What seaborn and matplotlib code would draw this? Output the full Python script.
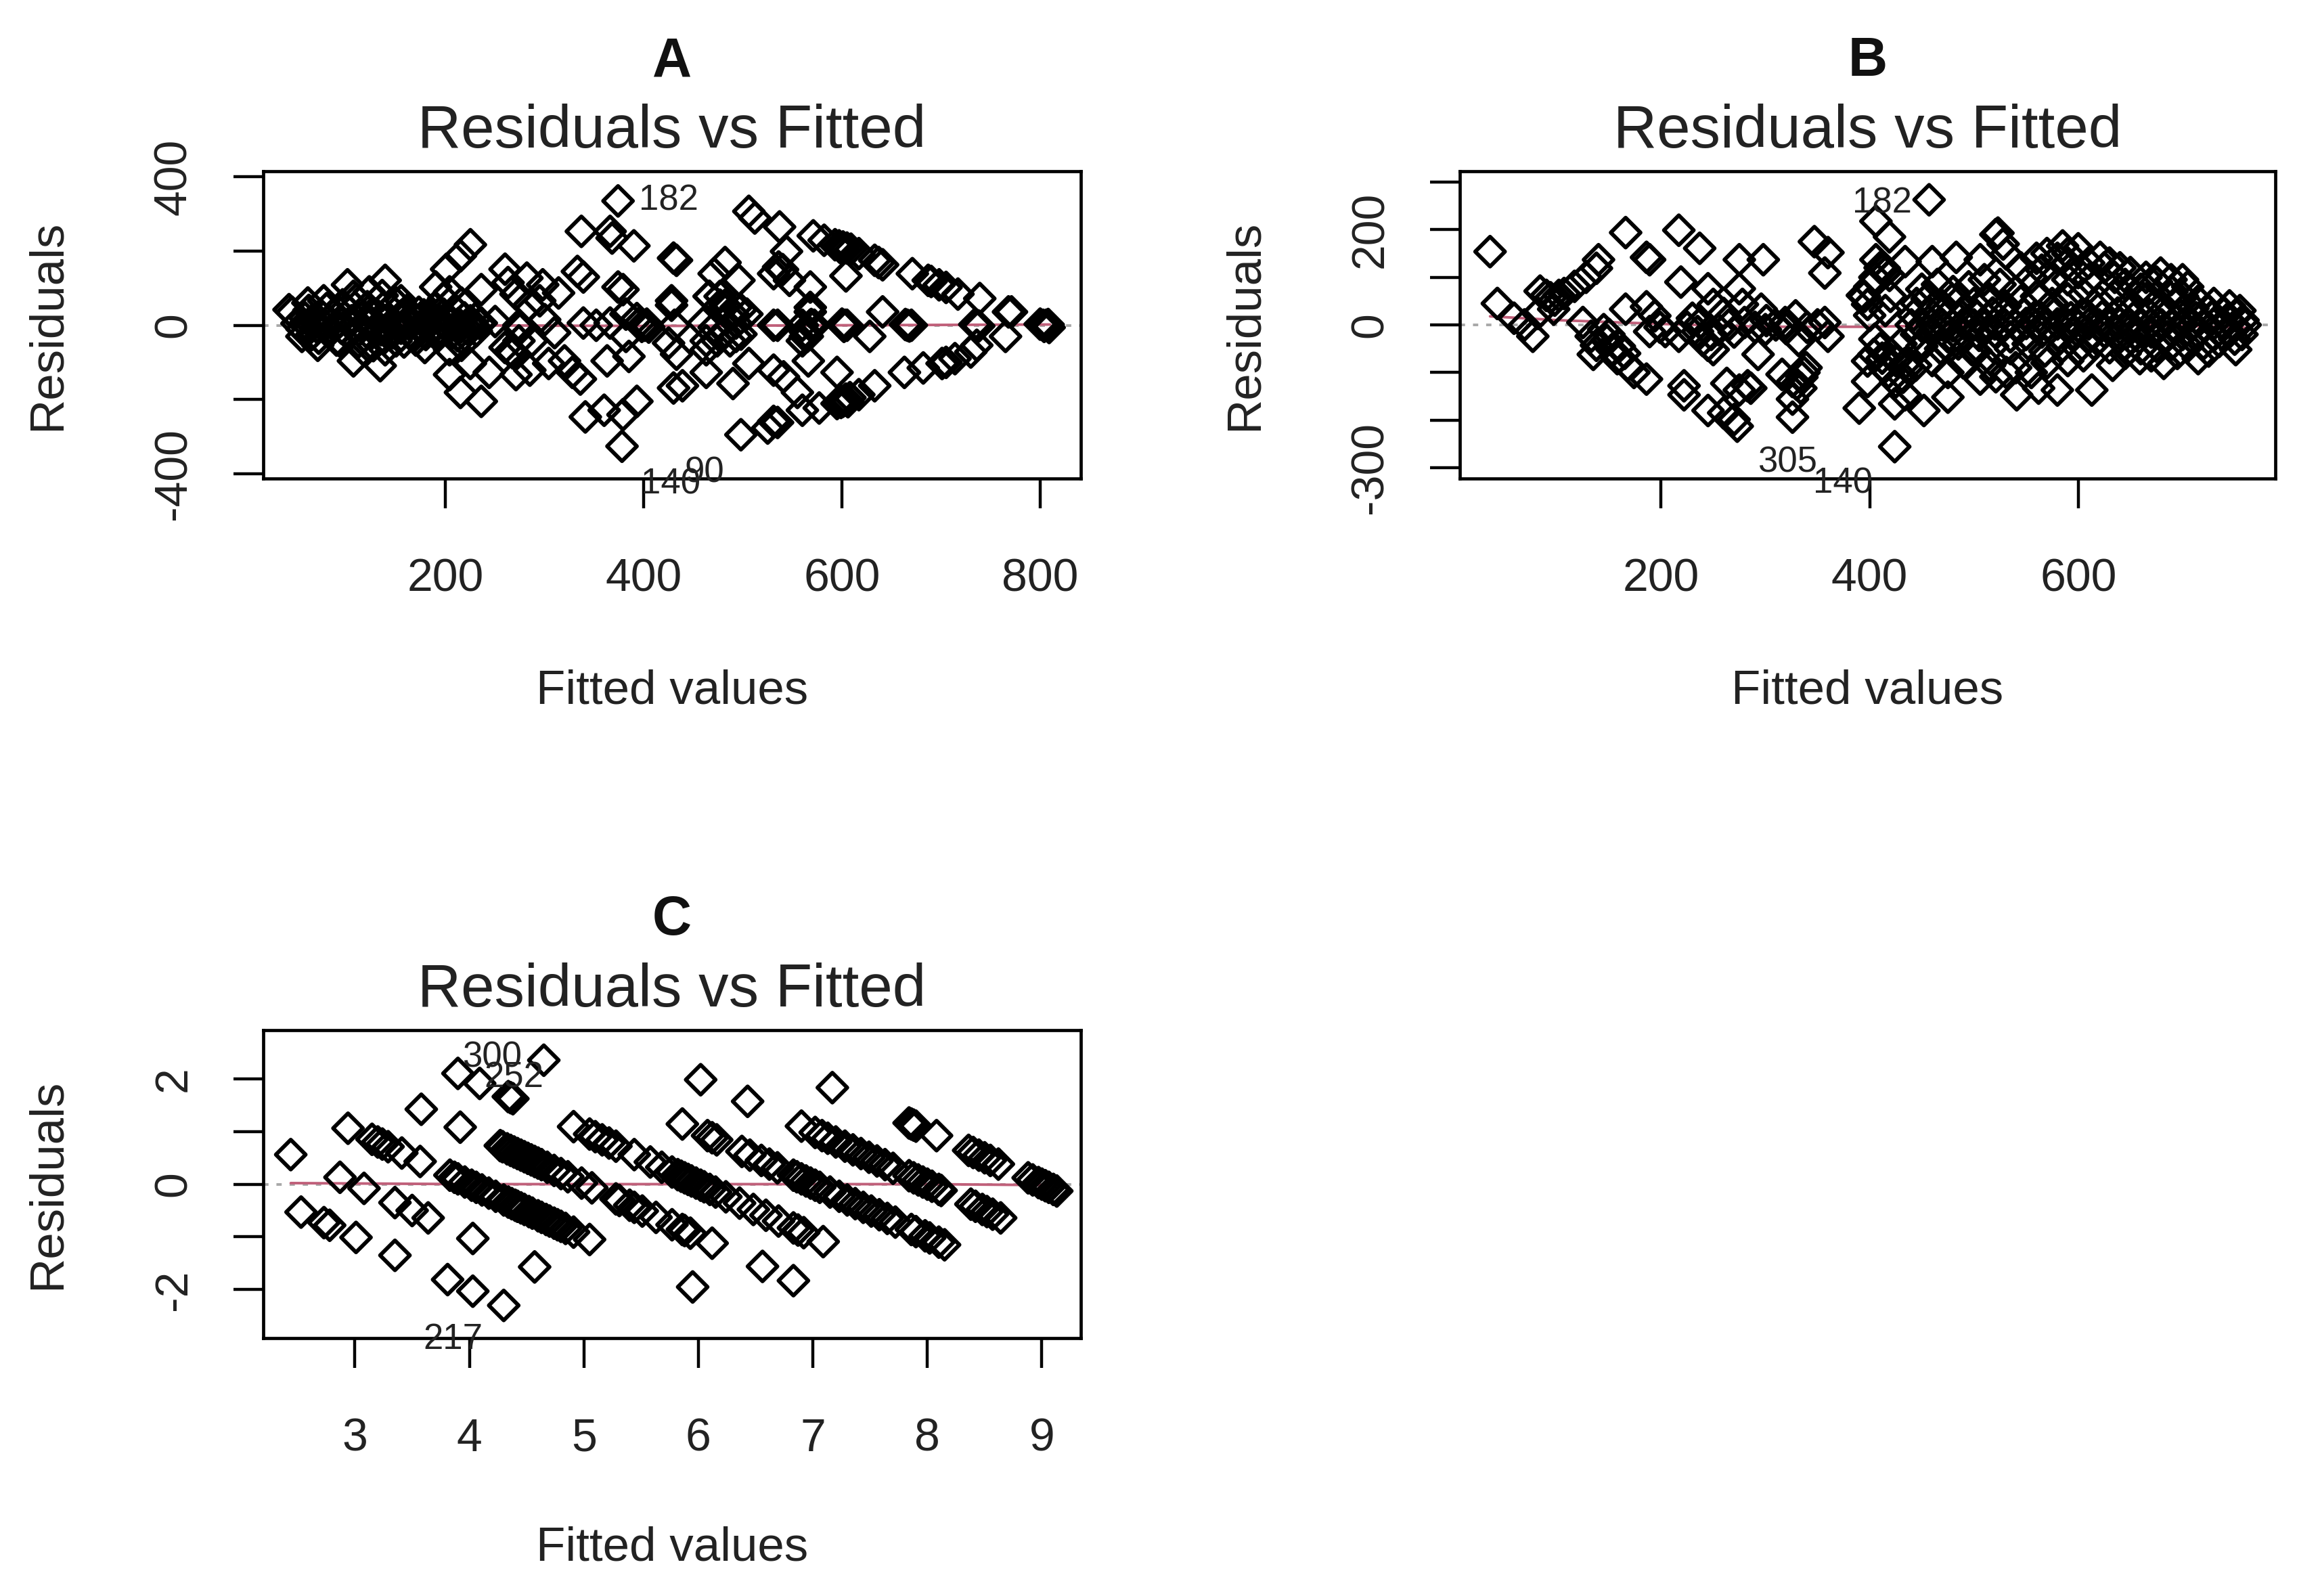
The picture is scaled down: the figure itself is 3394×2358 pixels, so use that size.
import matplotlib
matplotlib.use("Agg")
import matplotlib.pyplot as plt
import seaborn as sns
import pandas as pd

# ---------------- data ----------------
# Panel A: (fitted, residual)
a_left = [(45,35),(50,5),(55,-10),(58,20),(62,40),(65,-25),(68,10),(72,-35),(75,25),(78,0),(80,45),
          (84,-15),(88,30),(90,-40),(93,10),(96,55),(100,-20),(103,35),(106,-5),(110,70),(112,-45),
          (115,20),(118,-30),(121,50),(124,5),(127,-55),(130,30),(133,-10),(136,80),(138,-35),(141,15),
          (144,45),(147,-20),(150,60),(152,-5),(155,25),(158,-45),(161,40),(164,0),(167,-25),(170,15),
          (173,35),(176,-10),(180,5),(183,20),(186,-15),(189,45),(192,-30),(195,10),(198,30),(201,-5),
          (204,15),(207,-20),(210,40),(213,5),(216,-35),(219,20),(222,-10),(225,10),(228,0),(231,-15),
          (234,5),(42,42),(61,60),(77,66),(101,109),(139,121),(107,78),(123,90),(155,66),(190,103),
          (204,90),(198,72),(216,60),(201,151),(215,187),(225,217),(55,-30),(71,-54),(93,-42),(107,-96),
          (134,-109),(117,-66),(139,-66),(150,-42),(168,-30),(179,-60),(216,-54),(204,-66),(225,-103),
          (244,-127),(204,-133),(215,-181),(236,-205)]
a_core = [(60,0),(70,-5),(85,5),(95,-8),(105,12),(115,-3),(125,8),(135,-12),(145,3),(155,-8),
          (165,10),(175,-3),(185,8),(195,-10),(205,3),(215,-5),(225,12),(200,20),(190,-20),
          (180,-25),(170,-40),(160,25),(66,15),(82,-20),(98,22),(120,-18),(142,-25),(178,28),
          (212,-28),(230,18)]
a_mid = [(236,96),(260,151),(282,127),(298,109),(314,87),(263,115),(271,84),(295,66),(284,54),
         (260,-60),(274,-42),(287,-42),(271,-133),(285,-121),(304,-103),(320,-96),(328,-127),(336,-145),
         (333,145),(339,130),(374,103),(379,96),(428,66),(339,6),(352,0),(366,6),(382,30),(393,18),
         (401,0),(382,-30),(363,-96),(385,-84),(341,-247),(360,-229),(379,-241),(393,-205),(378,-326),
         (430,-169),(425,-48),(337,253),(366,253),(368,235),(390,214),(430,181),(374,335),
         (250,10),(275,-10),(300,15),(310,-20),(236,6),(274,0),(265,-70),(268,-75),
         (395,5),(398,-3),(403,3),(405,-5)]
a_right = [(506,307),(512,289),(537,265),(571,241),(582,229),(593,217),(597,214),(601,211),(605,208),
           (609,205),(617,193),(633,175),(637,169),(641,163),(604,133),(544,199),(536,157),(531,139),
           (540,150),(547,121),(568,103),(433,175),(482,169),(471,139),(496,121),(466,78),(477,54),
           (493,48),(504,30),(428,54),(431,0),(531,0),(535,0),(568,36),(568,0),(572,0),(601,0),(605,0),
           (641,36),(666,0),(670,0),(736,0),(771,36),(803,0),(806,0),(671,139),(687,121),(690,118),
           (698,109),(705,102),(717,84),(739,72),(768,36),(563,-30),(628,-30),(765,-30),(809,-6),
           (433,-78),(463,-66),(474,-42),(493,-30),(439,-163),(463,-127),(490,-157),(506,-103),
           (531,-121),(541,-139),(555,-181),(566,-96),(560,-229),(577,-223),(595,-211),(598,-205),
           (601,-205),(604,-199),(608,-195),(617,-187),(633,-163),(595,-127),(663,-127),(682,-115),
           (701,-103),(705,-100),(714,-90),(730,-72),(736,-54),(498,-295),(525,-277),(531,-259),
           (535,-262),(466,78),(477,78),(482,54),(490,30),(498,42),(460,6),(471,-6),(482,-18),(493,6),
           (463,-42),(477,-30),(487,-42),(498,-24),(560,0),(563,-18),(565,-30),(560,-42),(568,48),
           (569,2),(571,-2),(600,3),(602,-3),(603,0),(664,2),(668,-2),(734,2),(738,-2),(800,3),
           (804,-3),(808,2),(598,210),(600,206),(603,-202),(606,-206),(599,-208)]
a_labels = [("182", 425, 335), ("140", 427, -428), ("90", 461, -398)]
a_smooth_x = [45, 200, 400, 600, 810]
a_smooth_y = [3, 0, -2, 0, 2]

# Panel B: (fitted, residual)
b_left = [(36,154),(43,45),(59,14),(69,0),(77,-24),(84,71),(94,57),(102,62),(107,66),(117,81),
          (128,100),(138,119),(140,137),(82,24),(97,33),(90,62),(98,52),(125,5),(133,-24),(138,-43),
          (135,-62),(148,-33),(153,-52),(158,-71),(168,-85),(174,-100),(186,-114),(145,-10),(150,-20),
          (160,-45),(165,-60),(166,194),(166,33),(186,38),(194,19),(199,-5),(189,-14),(186,142),
          (189,137),(217,199),(237,161),(219,90),(245,76),(250,43),(260,24),(275,76),(278,43),(296,33),
          (301,9),(319,5),(329,19),(357,5),(360,-24),(230,14),(235,-14),(240,-33),(250,-52),(245,-43),
          (217,-24),(204,-14),(225,-5),(238,5),(248,-20),(255,-10),(265,0),(270,-15),(280,5),(290,-5),
          (300,-10),(310,0),(320,-8),(340,-5),(350,0),(275,137),(298,137),(347,175),(360,152),(357,109),
          (293,-62),(332,-33),(316,-104),(326,-119),(337,-100),(334,-133),(326,-156),(326,-194),
          (339,-90),(330,-125),(335,-110),(222,-128),(222,-147),(263,-123),(275,-137),(283,-128),
          (286,-133),(245,-180),(260,-185),(270,-199),(273,-213),(390,-175),(393,62),(398,43),
          (398,-76),(398,-119)]
b_mid = [(457,263),(406,218),(419,185),(521,190),(523,193),(528,170),(531,149),(406,137),(414,119),
         (419,104),(434,133),(460,133),(483,142),(506,137),(585,166),(621,142),(679,109),(689,95),
         (404,-62),(414,-90),(434,-81),(444,-85),(473,-43),(475,-100),(498,-52),(506,-114),(521,-109),
         (531,-100),(541,-147),(562,-133),(580,-137),(613,-137),(633,-85),(659,-71),(682,-81),
         (715,-71),(751,-52),(434,-147),(452,-180),(475,-152),(424,-166),(424,-256),
         (395,60),(400,80),(405,100),(410,120),(415,110),(420,-60),(425,-75),(430,-40),(410,-50),
         (405,-30),(415,30),(420,60),(400,20),(412,-70),(418,-100),(425,-120),(432,-110),(436,-90)]
b_band = [(450,75),(465,85),(480,70),(495,80),(510,95),(525,85),(540,70),(555,100),(565,115),(575,95),
          (590,130),(600,110),(610,95),(625,120),(635,100),(645,85),(660,75),(675,90),(690,70),(700,60),
          (715,50),(730,45),(745,40),(755,30),(445,45),(455,55),(470,40),(485,50),(500,45),(515,55),
          (530,40),(545,50),(560,60),(575,45),(590,55),(605,65),(620,50),(635,60),(650,45),(665,55),
          (680,40),(695,50),(710,35),(725,30),(740,25),(752,20),(442,20),(458,25),(472,15),(488,20),
          (503,18),(518,25),(533,15),(548,22),(563,18),(578,25),(593,15),(608,22),(623,18),(638,25),
          (653,15),(668,22),(683,18),(698,20),(713,15),(728,18),(743,12),(758,10),(440,0),(450,-3),
          (460,2),(470,0),(480,-2),(490,3),(500,0),(510,-3),(520,2),(530,0),(540,-2),(550,3),(560,0),
          (570,-2),(580,2),(590,0),(600,-3),(610,2),(620,0),(630,-2),(640,3),(650,0),(660,-2),(670,2),
          (680,0),(690,-3),(700,2),(710,0),(720,-2),(730,2),(740,0),(750,-2),(760,0),(445,-20),
          (460,-15),(475,-25),(490,-18),(505,-22),(520,-15),(535,-25),(550,-20),(565,-15),(580,-22),
          (595,-18),(610,-25),(625,-15),(640,-20),(655,-22),(670,-15),(685,-25),(700,-20),(715,-18),
          (730,-22),(745,-15),(757,-20),(450,-45),(468,-50),(485,-40),(502,-55),(518,-45),(535,-50),
          (552,-40),(568,-55),(585,-45),(600,-50),(615,-40),(630,-48),(645,-42),(660,-50),(675,-45),
          (690,-40),(705,-45),(720,-40),(735,-35),(750,-30),(460,-75),(490,-80),(515,-85),(540,-90),
          (555,-100),(570,-80),(590,-75),(605,-65),(645,-60),(670,-65),(695,-60),(725,-55),(545,120),
          (560,140),(570,150),(580,140),(590,150),(600,160),(610,130),(630,130),(640,120),(650,110),
          (665,100),(700,95),(705,80),(590,95)]
b_labels = [("182", 412, 256), ("305", 321, -289), ("140", 374, -333)]
b_smooth_x = [36, 100, 200, 300, 400, 500, 600, 700, 760]
b_smooth_y = [18, 10, 2, -4, -4, 0, 2, -2, -6]

# Panel C: fitted values grouped by observed count
c_fit_2 = [2.53, 2.73, 2.78, 3.01, 3.35, 3.81, 4.03, 4.30]
c_fit_3 = [2.44, 2.87, 3.08, 3.35, 3.50, 3.64, 4.03, 4.57]
c_fit_4 = [2.94, 3.15, 3.20, 3.24, 3.29, 3.41, 3.57, 3.83, 3.87, 3.90, 3.96, 4.02, 4.06, 4.11, 4.17,
           4.23, 4.30, 4.34, 4.37, 4.40, 4.42, 4.45, 4.48, 4.52, 4.55, 4.60, 4.63, 4.67, 4.70, 4.74,
           4.77, 4.80, 4.84, 4.91, 5.05, 5.95]
c_fit_5 = [3.58, 3.92, 4.27, 4.29, 4.33, 4.36, 4.39, 4.42, 4.45, 4.48, 4.51, 4.54, 4.57, 4.60, 4.63,
           4.68, 4.74, 4.80, 4.86, 4.98, 5.07, 5.28, 5.31, 5.40, 5.44, 5.51, 5.63, 5.77, 5.86, 5.88,
           5.93, 6.12, 6.56, 6.83]
c_fit_6 = [3.90, 4.09, 4.34, 4.36, 4.38, 4.91, 5.05, 5.10, 5.16, 5.22, 5.28, 5.44, 5.58, 5.68, 5.77,
           5.82, 5.85, 5.88, 5.91, 5.94, 5.98, 6.02, 6.05, 6.10, 6.15, 6.24, 6.36, 6.48, 6.59, 6.70,
           6.83, 6.87, 6.92, 7.09]
c_fit_7 = [4.65, 5.86, 6.08, 6.12, 6.16, 6.38, 6.45, 6.55, 6.62, 6.69, 6.83, 6.86, 6.90, 6.94, 6.98,
           7.02, 7.06, 7.15, 7.23, 7.30, 7.37, 7.44, 7.51, 7.58, 7.65, 7.72, 7.86, 7.90, 7.98, 8.02,
           8.10, 8.15]
c_fit_8 = [6.02, 6.43, 6.90, 7.02, 7.08, 7.13, 7.20, 7.28, 7.35, 7.42, 7.49, 7.56, 7.63, 7.70, 7.84,
           7.88, 7.92, 7.96, 8.00, 8.04, 8.10, 8.12, 8.38, 8.42, 8.48, 8.52, 8.57, 8.64]
c_fit_9 = [7.17, 7.84, 7.86, 7.88, 7.90, 8.08, 8.36, 8.40, 8.45, 8.50, 8.55, 8.62, 8.88, 8.92, 8.97,
           9.00, 9.03, 9.06, 9.10, 9.13]
c_groups = {2: c_fit_2, 3: c_fit_3, 4: c_fit_4, 5: c_fit_5, 6: c_fit_6, 7: c_fit_7, 8: c_fit_8, 9: c_fit_9}
c_labels = [("300", 4.20, 2.40), ("252", 4.39, 2.01), ("217", 3.86, -2.95)]
c_smooth_x = [2.44, 4.0, 6.0, 8.0, 9.13]
c_smooth_y = [0.02, 0.0, 0.0, 0.0, -0.02]

# ---------------- build frames ----------------
df_a = pd.DataFrame(a_left + a_core + a_mid + a_right, columns=["fitted", "resid"])
df_b = pd.DataFrame(b_left + b_mid + b_band, columns=["fitted", "resid"])
rows_c = []
for obs, fits in c_groups.items():
    for f in fits:
        rows_c.append((f, obs - f))
df_c = pd.DataFrame(rows_c, columns=["fitted", "resid"])

# ---------------- figure ----------------
sns.set_theme(style="white")
plt.rcParams["font.family"] = ["Liberation Sans", "DejaVu Sans"]
W, H = 3394, 2358
DPI = 200
fig = plt.figure(figsize=(W / DPI, H / DPI), dpi=DPI)

def px_axes(l, r, t, b):
    return fig.add_axes([l / W, 1 - b / H, (r - l) / W, (b - t) / H])

axA = px_axes(389, 1597, 253, 707)
axB = px_axes(2157, 3362, 253, 707)
axC = px_axes(389, 1597, 1522, 1977)

def draw(ax, df, sx, sy, labels, letter, xlim, ylim, xticks, yticks, ylabels, xlab_y):
    ax.axhline(0, color="#a8a8a8", lw=1.4, ls=(0, (2, 3)), zorder=1)
    sns.lineplot(x=sx, y=sy, ax=ax, color="#c0607a", lw=1.4, zorder=2, sort=True,
                 estimator=None)
    sns.scatterplot(data=df, x="fitted", y="resid", ax=ax, marker="D", s=125,
                    facecolor="none", edgecolor="black", linewidth=2.1, zorder=3)
    for txt, x, y in labels:
        ax.text(x, y, txt, fontsize=19, ha="center", va="center", color="#222222",
                clip_on=False, zorder=4)
    ax.set_xlim(*xlim)
    ax.set_ylim(*ylim)
    ax.set_xticks(xticks)
    ax.set_xticklabels([str(t) for t in xticks])
    ax.set_yticks(yticks)
    ax.set_yticklabels(ylabels)
    for lab in ax.get_yticklabels():
        lab.set_rotation(90)
        lab.set_va("center")
    ax.tick_params(axis="both", which="both", direction="out", length=16, width=1.6,
                   color="black", labelsize=24.5, labelcolor="#222222", left=True, bottom=True)
    ax.tick_params(axis="x", pad=26)
    ax.tick_params(axis="y", pad=20)
    for sp in ax.spines.values():
        sp.set_visible(True)
        sp.set_color("black")
        sp.set_linewidth(1.7)
    ax.set_xlabel("Fitted values", fontsize=25.5, color="#222222")
    ax.set_ylabel("Residuals", fontsize=25.5, color="#222222")
    ax.xaxis.set_label_coords(0.5, xlab_y)
    ax.yaxis.set_label_coords(-0.236, 0.5)
    ax.text(0.5, 1.078, "Residuals vs Fitted", transform=ax.transAxes, fontsize=32,
            ha="center", va="baseline", color="#222222")
    ax.text(0.5, 1.31, letter, transform=ax.transAxes, fontsize=29, fontweight="bold",
            ha="center", va="baseline", color="#111111")
    ax.grid(False)

draw(axA, df_a, a_smooth_x, a_smooth_y, a_labels, "A", (16, 841), (-413, 415),
     [200, 400, 600, 800], [-400, -200, 0, 200, 400], ["-400", "", "0", "", "400"], -0.62)
draw(axB, df_b, b_smooth_x, b_smooth_y, b_labels, "B", (7, 789), (-323, 323),
     [200, 400, 600], [-300, -200, -100, 0, 100, 200, 300],
     ["-300", "", "", "0", "", "200", ""], -0.62)
draw(axC, df_c, c_smooth_x, c_smooth_y, c_labels, "C", (2.2, 9.34), (-2.92, 2.92),
     [3, 4, 5, 6, 7, 8, 9], [-2, -1, 0, 1, 2], ["-2", "", "0", "", "2"], -0.61)

fig.savefig("out.png", dpi=DPI, facecolor="white")
